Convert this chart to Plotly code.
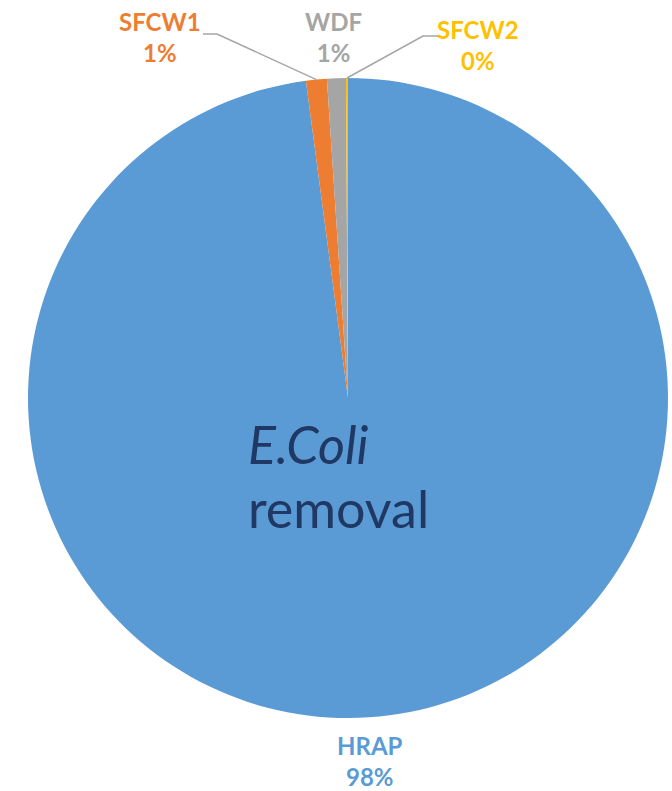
import math
import plotly.graph_objects as go

labels = ["HRAP", "SFCW1", "WDF", "SFCW2"]
values = [97.9, 1.05, 0.95, 0.1]
colors = ["#5B9BD5", "#ED7D31", "#A5A5A5", "#FFC000"]

W, H = 672, 791
ML, MR, MT, MB = 28, 4, 78, 73
PW, PH = W - ML - MR, H - MT - MB
CX, CY, R = ML + PW / 2, MT + PH / 2, PW / 2

def px(x):
    return (x - ML) / PW

def py(y):
    return 1 - (y - MT) / PH

fig = go.Figure(go.Pie(
    labels=labels, values=values, sort=False, direction="clockwise", rotation=0,
    marker=dict(colors=colors, line=dict(width=0)),
    textinfo="none", hoverinfo="label+percent", showlegend=False,
))

total = sum(values)
pct = [f"{round(v / total * 100):.0f}%" for v in values]

# label positions (pixel) and leader-line elbow points
label_pos = {"HRAP": (370, 761), "SFCW1": (160, 37), "WDF": (333, 37), "SFCW2": (478, 45)}
elbows = {"SFCW1": [(203, 34), (217, 34)], "SFCW2": [(440, 36), (423, 36)]}

annotations = []
shapes = []
cum = 0.0
for lab, v, c, p in zip(labels, values, colors, pct):
    mid = (cum + v / 2) / total * 2 * math.pi
    cum += v
    lx, ly = label_pos[lab]
    annotations.append(dict(
        x=px(lx), y=py(ly), xref="paper", yref="paper", showarrow=False,
        text=f"<b>{lab}</b><br><b>{p}</b>", align="center",
        font=dict(family="Lato", size=24, color=c),
        xanchor="center", yanchor="middle",
    ))
    if lab in elbows:
        ex = CX + R * math.sin(mid)
        ey = CY - R * math.cos(mid)
        pts = elbows[lab] + [(ex, ey)]
        path = "M " + " L ".join(f"{px(a)},{py(b)}" for a, b in pts)
        shapes.append(dict(type="path", path=path, xref="paper", yref="paper",
                           line=dict(color="#A6A6A6", width=1.5)))

annotations.append(dict(x=px(246), y=py(444), xref="paper", yref="paper", showarrow=False,
                        text="<i>E.Coli</i>", xanchor="left", yanchor="middle",
                        font=dict(family="Lato", size=52, color="#203864")))
annotations.append(dict(x=px(246), y=py(508), xref="paper", yref="paper", showarrow=False,
                        text="removal", xanchor="left", yanchor="middle",
                        font=dict(family="Lato", size=52, color="#203864")))

fig.update_layout(
    width=W, height=H, margin=dict(l=ML, r=MR, t=MT, b=MB),
    paper_bgcolor="white", plot_bgcolor="white",
    annotations=annotations, shapes=shapes,
)
fig.write_html("out.html")
